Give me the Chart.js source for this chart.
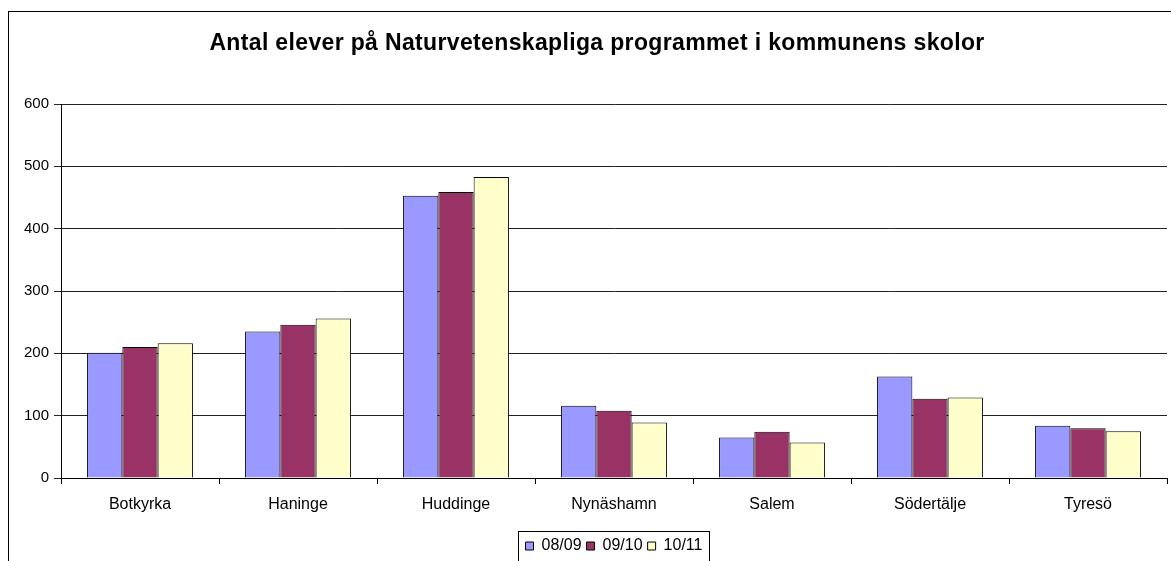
<!DOCTYPE html>
<html>
<head>
<meta charset="utf-8">
<script src="https://cdn.jsdelivr.net/npm/chart.js@4"></script>
<style>
  html, body { margin: 0; padding: 0; background: #fff; overflow: hidden; }
  #wrap { position: relative; width: 1190px; height: 580px; }
</style>
</head>
<body>
<div id="wrap"><canvas id="chart" width="1190" height="580"></canvas></div>
<script>
const titleText = 'Antal elever på Naturvetenskapliga programmet i kommunens skolor';
const categories = ['Botkyrka', 'Haninge', 'Huddinge', 'Nynäshamn', 'Salem', 'Södertälje', 'Tyresö'];
const seriesLabels = ['08/09', '09/10', '10/11'];
const values0809 = [201, 235, 453, 116, 65, 163, 84];
const values0910 = [210, 246, 459, 108, 74, 127, 80];
const values1011 = [216, 256, 483, 89, 57, 129, 75];
const yTicks = [0, 100, 200, 300, 400, 500, 600];

const colors = ['#9999ff', '#993366', '#ffffcc'];
const font = 'Arial, "Liberation Sans", sans-serif';

// Excel-style frame, title (centred on the whole frame) and legend border
const framePlugin = {
  id: 'frame',
  afterDraw(chart) {
    const ctx = chart.ctx;
    ctx.save();
    ctx.strokeStyle = '#000';
    ctx.lineWidth = 1;
    ctx.strokeRect(8.5, 11.5, 1178, 566);

    ctx.fillStyle = '#000';
    ctx.font = 'bold 23px ' + font;
    if ('letterSpacing' in ctx) ctx.letterSpacing = '0.35px';
    ctx.textAlign = 'center';
    ctx.textBaseline = 'alphabetic';
    ctx.fillText(titleText, 597, 50);
    if ('letterSpacing' in ctx) ctx.letterSpacing = '0px';

    const boxes = chart.legend.legendHitBoxes;
    if (boxes && boxes.length) {
      const left = Math.min(...boxes.map(b => b.left)) - 8;
      const right = Math.max(...boxes.map(b => b.left + b.width)) + 6;
      ctx.strokeRect(Math.round(left) + 0.5, 531.5, Math.round(right - left), 40);
    }
    ctx.restore();
  }
};

new Chart(document.getElementById('chart'), {
  type: 'bar',
  data: {
    labels: categories,
    datasets: [values0809, values0910, values1011].map((data, i) => ({
      label: seriesLabels[i],
      data,
      backgroundColor: colors[i],
      borderColor: '#000',
      borderWidth: 1,
      borderSkipped: 'bottom',
      categoryPercentage: 0.67,
      barPercentage: 1.0
    }))
  },
  options: {
    responsive: false,
    animation: false,
    layout: { padding: { left: 0, right: 23, top: 104, bottom: 16 } },
    plugins: {
      title: { display: false },
      legend: {
        position: 'bottom',
        fullSize: false,
        labels: {
          color: '#000',
          font: { family: font, size: 16 },
          boxWidth: 8,
          boxHeight: 8,
          padding: 5
        }
      },
      tooltip: { enabled: false }
    },
    scales: {
      x: {
        grid: { display: true, drawOnChartArea: false, drawTicks: true, tickLength: 6, color: '#000', offset: true },
        border: { display: true, color: '#000', width: 1 },
        ticks: { color: '#000', font: { family: font, size: 16 }, padding: 11, maxRotation: 0 },
        afterFit(scale) { scale.height = 55; }
      },
      y: {
        min: 0,
        max: 600,
        afterBuildTicks(scale) { scale.ticks = yTicks.map(v => ({ value: v })); },
        grid: { color: '#222', lineWidth: 1, tickLength: 7 },
        border: { display: true, color: '#000', width: 1 },
        ticks: { color: '#000', font: { family: font, size: 15 }, padding: 5 },
        afterFit(scale) { scale.width = 61; }
      }
    }
  },
  plugins: [framePlugin]
});
</script>
</body>
</html>
